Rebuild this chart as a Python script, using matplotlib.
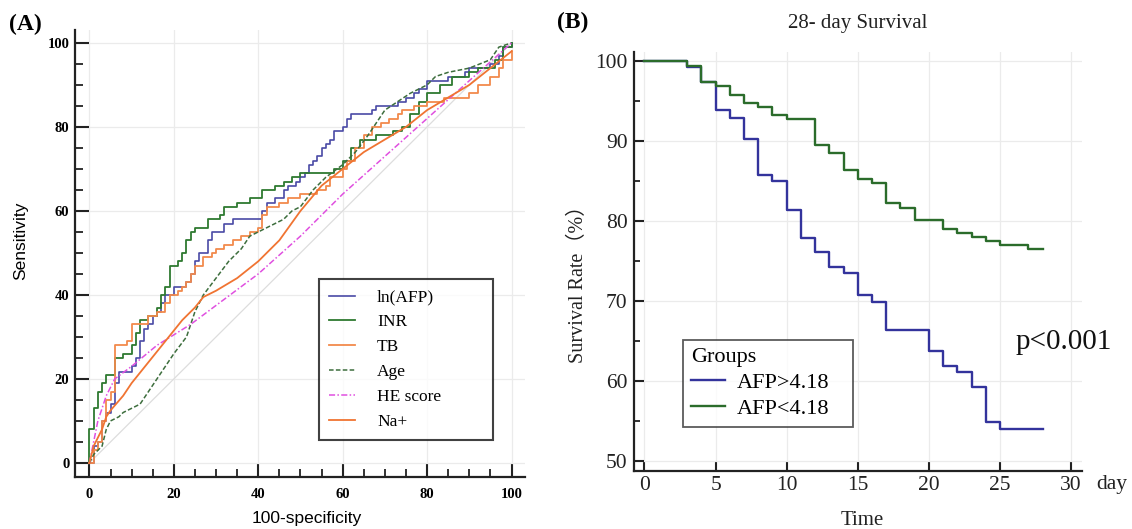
import matplotlib
matplotlib.use("Agg")
import matplotlib.pyplot as plt
from matplotlib.ticker import MultipleLocator

# ---- panel A: ROC curves (100-specificity, sensitivity) ----
afp_x = [0, 1, 2, 3, 3, 4, 5, 5, 6, 6, 7, 10, 10, 11, 12, 13, 14, 15, 16, 17, 18, 20, 20, 23, 24, 25, 26, 28, 28, 29, 31, 32, 34, 40, 41, 42, 44, 46, 47, 49, 50, 51, 52, 53, 54, 55, 56, 57, 58, 60, 61, 62, 66, 67, 68, 72, 73, 75, 77, 78, 80, 82, 85, 89, 90, 95, 97, 98, 100]
afp_y = [0, 4, 5, 7, 10, 12, 12, 14, 17, 19, 21.6, 21.6, 23, 25, 29, 32, 33, 35, 36, 38, 40, 40, 42, 43, 45, 48, 50, 51, 53, 55, 55, 57, 58, 58, 60, 62, 63, 65, 66, 67, 68, 69, 71, 72, 73, 75, 76, 77, 79, 80, 82, 83, 83, 84, 85, 85, 86, 87, 88, 89, 91, 91, 92, 93, 94, 95, 97, 99, 100]

inr_x = [0, 0, 1, 2, 3, 4, 6, 6, 8, 10, 11, 12, 14, 16, 17, 18, 19, 21, 22, 23, 24, 25, 28, 31, 32, 35, 38, 41, 44, 46, 48, 50, 56, 58, 60, 62, 64, 68, 72, 74, 76, 78, 80, 83, 86, 90, 92, 96, 98, 100]
inr_y = [0, 8, 13, 17, 19, 21, 22, 25, 26, 28, 31, 34, 35, 37, 40, 42, 47, 48, 50, 53, 55, 56, 58, 59, 61, 62, 63, 65, 66, 67, 68, 69, 69, 70, 72, 75, 77, 78, 79, 80, 83, 86, 88, 90, 92, 93, 94, 96, 99, 100]

tb_x = [0, 1, 2, 3, 3, 4, 5, 6, 6, 6, 8, 9, 10, 10, 13, 14, 16, 18, 18, 19, 21, 22, 23, 24, 25, 27, 27, 29, 30, 32, 34, 36, 38, 40, 41, 42, 44, 45, 47, 50, 52, 54, 56, 57, 60, 61, 63, 65, 67, 69, 71, 73, 74, 77, 80, 84, 88, 90, 92, 95, 97, 98, 100]
tb_y = [0, 3, 5, 6, 10, 15, 17, 17, 21, 28, 28, 29, 31, 33, 33, 35, 36, 37, 38, 40, 41, 42, 43, 45, 47, 47, 49, 50, 51, 52, 53, 54, 55, 56, 59, 61, 61, 62, 63, 64, 64, 65, 66, 68, 70, 72, 75, 78, 80, 81, 82, 83, 84, 85, 86, 87, 87, 88, 90, 92, 94, 96, 98]

age_x = [0, 1, 2, 3, 4, 5, 7, 8, 10, 12, 14, 16, 18, 20, 23, 25, 27, 30, 33, 36, 38, 42, 46, 48, 50, 53, 56, 60, 63, 66, 68, 70, 73, 76, 80, 82, 85, 90, 95, 97, 100]
age_y = [0, 2, 3, 4, 8, 10, 11, 12, 13, 14, 17, 20, 23, 26, 30, 36, 40, 44, 48, 51, 54, 56, 58, 60, 61, 65, 68, 71, 74, 78, 81, 84, 86, 88, 90, 92, 93, 94, 96, 99, 100]

he_x = [0, 1, 2, 4, 6, 10, 16, 24, 32, 40, 50, 60, 70, 80, 90, 100]
he_y = [0, 5, 10, 16, 20, 23, 28, 33, 39, 45, 54, 64, 73, 82, 91, 100]

na_x = [0, 1, 3, 4, 5, 8, 10, 14, 18, 22, 25, 27, 30, 35, 40, 42, 45, 50, 55, 60, 65, 70, 75, 80, 85, 90, 95, 100]
na_y = [0, 4, 8, 11, 12.5, 16, 19, 24, 29, 34, 37, 39.5, 41, 44, 48, 50, 53, 60, 66, 70, 74, 77, 80, 84, 87, 90, 94, 98]

# ---- panel B: Kaplan-Meier (day, survival %) ----
km_days = [0, 3, 4, 5, 6, 7, 8, 9, 10, 11, 12, 13, 14, 15, 16, 17, 18, 19, 20, 21, 22, 23, 24, 25, 27, 28]
high_afp = [100, 99.2, 97.4, 93.9, 92.9, 90.2, 85.8, 85.0, 81.4, 77.9, 76.1, 74.3, 73.5, 70.8, 69.9, 66.4, 66.4, 66.4, 63.7, 61.9, 61.1, 59.3, 54.9, 54.0, 54.0, 54.0]
low_afp = [100, 99.4, 97.4, 96.9, 95.8, 94.8, 94.3, 93.2, 92.7, 92.7, 89.5, 88.5, 86.4, 85.3, 84.8, 82.2, 81.6, 80.1, 80.1, 79.0, 78.5, 78.0, 77.5, 77.0, 76.5, 76.5]

serif = ["Liberation Serif", "DejaVu Serif"]
spine_c = "#222222"

fig = plt.figure(figsize=(11.32, 5.29), dpi=100)
axA = fig.add_axes([0.0663, 0.0987, 0.3975, 0.844])
axB = fig.add_axes([0.5599, 0.1102, 0.3958, 0.791])

for ax in (axA, axB):
    for s in ("top", "right"):
        ax.spines[s].set_visible(False)
    for s in ("left", "bottom"):
        ax.spines[s].set_linewidth(1.6)
        ax.spines[s].set_color(spine_c)
    ax.grid(True, color="#ebebeb", linewidth=0.9)
    ax.set_axisbelow(True)

# panel A
axA.plot([0, 100], [0, 100], color="#dddddd", lw=0.9)
axA.plot(afp_x, afp_y, color="#4a4aa6", lw=1.2, drawstyle="steps-post", label="ln(AFP)")
axA.plot(inr_x, inr_y, color="#2e7a30", lw=1.3, drawstyle="steps-post", label="INR")
axA.plot(tb_x, tb_y, color="#f28a4c", lw=1.3, drawstyle="steps-post", label="TB")
axA.plot(age_x, age_y, color="#3d6e3d", lw=1.1, ls=(0, (3, 1.5)), label="Age")
axA.plot(he_x, he_y, color="#e050e0", lw=1.1, ls=(0, (4, 1.5, 1, 1.5)), label="HE score")
axA.plot(na_x, na_y, color="#f07432", lw=1.3, label="Na+")

axA.set_xlim(-3.4, 103.2)
axA.set_ylim(-3.3, 103.0)
axA.xaxis.set_major_locator(MultipleLocator(20))
axA.xaxis.set_minor_locator(MultipleLocator(5))
axA.yaxis.set_major_locator(MultipleLocator(20))
axA.yaxis.set_minor_locator(MultipleLocator(5))
axA.tick_params(which="major", direction="in", length=10, width=1.5, color=spine_c)
axA.tick_params(which="minor", direction="in", length=5.5, width=1.3, color=spine_c)
axA.tick_params(axis="x", which="major", pad=8)
axA.tick_params(axis="y", which="major", pad=4)
for lab in axA.get_xticklabels() + axA.get_yticklabels():
    lab.set_fontfamily(serif)
    lab.set_fontweight("bold")
    lab.set_fontsize(10.5)

axA.set_ylabel("Sensitivity", fontfamily="Liberation Sans", fontsize=12.5)
axA.yaxis.set_label_coords(-0.12, 0.528)
axA.yaxis.label.set_va("center")
axA.set_xlabel("100-specificity", fontfamily="Liberation Sans", fontsize=12.5)
axA.xaxis.set_label_coords(0.516, -0.093)
axA.xaxis.label.set_va("center")

legA = axA.legend(loc="lower left", bbox_to_anchor=(0.542, 0.082, 0.387, 0.37),
                  mode="expand", borderaxespad=0,
                  prop={"family": serif, "size": 12.5}, frameon=True, fancybox=False,
                  edgecolor="#111111", handlelength=1.45, handletextpad=1.3,
                  labelspacing=0.5, borderpad=0.6)
legA.get_frame().set_linewidth(1.5)

# panel B
axB.step(km_days, high_afp, where="post", color="#33339c", lw=1.7, label="AFP>4.18")
axB.step(km_days, low_afp, where="post", color="#2b6c2b", lw=1.7, label="AFP<4.18")
axB.set_xlim(-0.75, 30.76)
axB.set_ylim(48.8, 101.1)
axB.xaxis.set_major_locator(MultipleLocator(5))
axB.yaxis.set_major_locator(MultipleLocator(10))
axB.yaxis.set_minor_locator(MultipleLocator(5))
axB.tick_params(which="major", direction="in", length=7, width=1.5, color=spine_c)
axB.tick_params(axis="y", which="minor", direction="in", length=4, width=1.3, color=spine_c)
axB.tick_params(axis="x", which="major", pad=4)
axB.tick_params(axis="y", which="major", pad=4.5)
for lab in axB.get_xticklabels() + axB.get_yticklabels():
    lab.set_fontfamily(serif)
    lab.set_fontsize(15.5)
    lab.set_color("#222222")

axB.set_title("28- day Survival", fontfamily=serif, fontsize=15, color="#222222",
              y=1.048, va="center")
axB.set_ylabel("Survival Rate（%）", fontfamily=["Liberation Serif", "Noto Sans CJK SC"],
               fontsize=14.5, color="#222222")
axB.yaxis.set_label_coords(-0.1246, 0.458)
axB.yaxis.label.set_va("center")
axB.set_xlabel("Time", fontfamily=serif, fontsize=15, color="#222222")
axB.xaxis.set_label_coords(0.509, -0.118)
axB.xaxis.label.set_va("center")
axB.text(1.066, -0.034, "day", transform=axB.transAxes, fontfamily=serif,
         fontsize=15.5, ha="center", va="center", color="#222222")
axB.text(26.1, 64.9, "p<0.001", fontfamily=serif, fontsize=21, ha="left",
         va="center", color="#111111")

legB = axB.legend(loc="lower left", bbox_to_anchor=(0.109, 0.105, 0.38, 0.2),
                  mode="expand", borderaxespad=0,
                  title="Groups", alignment="left",
                  prop={"family": serif, "size": 16}, title_fontproperties={"family": serif, "size": 16},
                  frameon=True, fancybox=False, edgecolor="#333333",
                  handlelength=1.56, handletextpad=0.5, labelspacing=0.25, borderpad=0.36)
legB.get_frame().set_linewidth(1.3)

fig.text(25 / 1132, 1 - 24 / 529, "(A)", fontfamily=serif, fontweight="bold",
         fontsize=17, ha="center", va="center")
fig.text(573 / 1132, 1 - 22 / 529, "(B)", fontfamily=serif, fontweight="bold",
         fontsize=17, ha="center", va="center")

fig.savefig("out.png", dpi=100)
